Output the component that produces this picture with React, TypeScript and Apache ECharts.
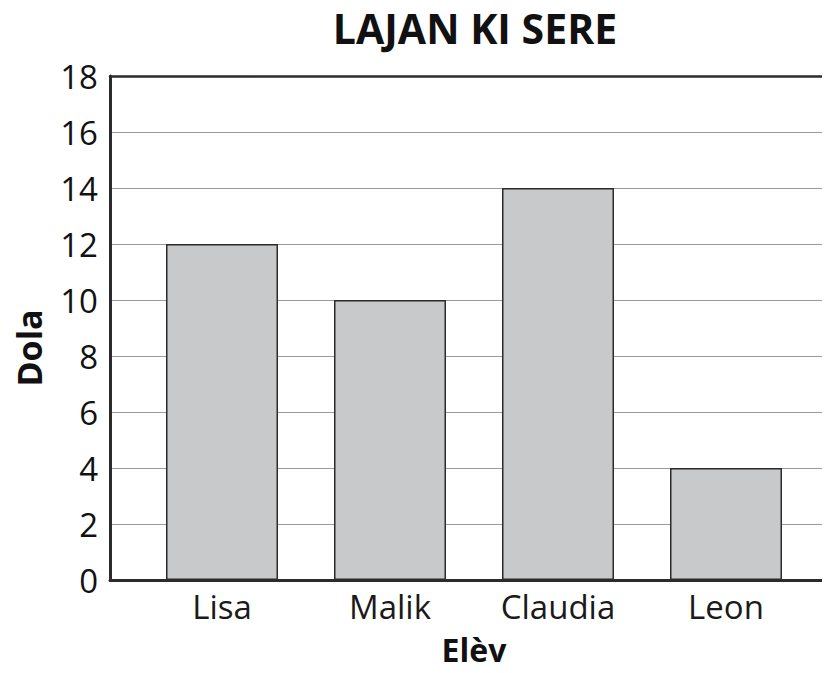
import React, { useEffect, useRef } from "react";
import * as echarts from "echarts";

const title = "LAJAN KI SERE";
const categories = ["Lisa", "Malik", "Claudia", "Leon"];
const values = [12, 10, 14, 4];
const yMin = 0;
const yMax = 18;
const yInterval = 2;
const xName = "Elèv";
const yName = "Dola";

const FONT = "'Open Sans', 'Noto Sans', sans-serif";

export default function App() {
  const ref = useRef<HTMLDivElement>(null);
  useEffect(() => {
    if (!ref.current) return;
    const chart = echarts.init(ref.current, null, { renderer: "svg" });
    const dark = "#2b2b2b";
    chart.setOption({
      animation: false,
      backgroundColor: "#ffffff",
      grid: [
        { left: 110, right: 0, top: 76, bottom: 93 },
        { left: 138, right: 20, top: 76, bottom: 93 },
      ],
      xAxis: [
        {
          type: "value", gridIndex: 0, min: 0, max: 1, position: "bottom",
          axisLine: { show: true, lineStyle: { color: dark, width: 3 } },
          axisTick: { show: false }, axisLabel: { show: false }, splitLine: { show: false },
        },
        {
          type: "value", gridIndex: 0, min: 0, max: 1, position: "top",
          axisLine: { show: true, lineStyle: { color: dark, width: 2.5 } },
          axisTick: { show: false }, axisLabel: { show: false }, splitLine: { show: false },
        },
        {
          type: "category", gridIndex: 1, data: categories,
          axisLine: { show: false }, axisTick: { show: false },
          axisLabel: { fontFamily: FONT, fontSize: 33, color: "#1a1a1a", margin: 10 },
        },
      ],
      yAxis: [
        {
          type: "value", gridIndex: 0, min: yMin, max: yMax, interval: yInterval,
          axisLine: { show: true, lineStyle: { color: dark, width: 3 } },
          axisTick: { show: false },
          axisLabel: { fontFamily: FONT, fontSize: 33, color: "#111", margin: 12 },
          splitLine: { show: true, lineStyle: { color: "#9a9a9a", width: 1.2 } },
        },
        {
          type: "value", gridIndex: 1, min: yMin, max: yMax, interval: yInterval, show: false,
        },
      ],
      series: [
        {
          type: "bar", xAxisIndex: 2, yAxisIndex: 1, data: values, barWidth: 112,
          itemStyle: { color: "#c8c9ca", borderColor: dark, borderWidth: 1.5 },
        },
      ],
      graphic: [
        {
          type: "text", x: 475, y: 28,
          style: { text: title, fontFamily: FONT, fontSize: 41, fontWeight: "bold", fill: "#111", textAlign: "center", textVerticalAlign: "middle" },
        },
        {
          type: "text", x: 474, y: 649,
          style: { text: xName, fontFamily: FONT, fontSize: 32, lineHeight: 30, fontWeight: "bold", fill: "#111", textAlign: "center", textVerticalAlign: "middle" },
        },
        {
          type: "text", x: 29, y: 348, rotation: Math.PI / 2,
          style: { text: yName, fontFamily: FONT, fontSize: 34, lineHeight: 34, fontWeight: "bold", fill: "#111", textAlign: "center", textVerticalAlign: "middle" },
        },
      ],
    });
    return () => chart.dispose();
  }, []);
  return <div ref={ref} style={{ width: 830, height: 673, margin: -8 }} />;
}
